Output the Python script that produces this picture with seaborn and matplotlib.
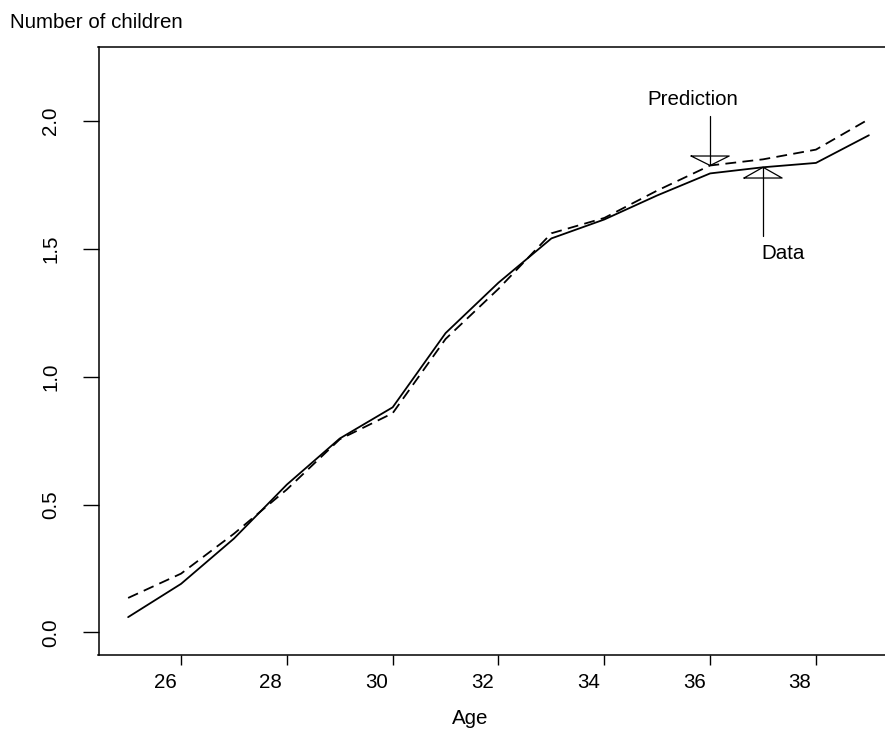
import matplotlib
matplotlib.use("Agg")
import matplotlib.pyplot as plt
import matplotlib.transforms as mtransforms
import seaborn as sns
import pandas as pd

# ---- data ----
ages = [25, 26, 27, 28, 29, 30, 31, 32, 33, 34, 35, 36, 37, 38, 39]
observed = [0.06, 0.19, 0.367, 0.578, 0.758, 0.88, 1.17, 1.367, 1.54, 1.614, 1.708, 1.794, 1.818, 1.835, 1.943]
predicted = [0.135, 0.23, 0.386, 0.559, 0.755, 0.857, 1.147, 1.343, 1.56, 1.62, 1.727, 1.825, 1.849, 1.887, 2.006]
x_ticks = [26, 28, 30, 32, 34, 36, 38]
y_ticks = [0.0, 0.5, 1.0, 1.5, 2.0]
y_tick_labels = ["0.0", "0.5", "1.0", "1.5", "2.0"]

sns.set_style("ticks")
plt.rcParams["font.family"] = ["Liberation Sans", "DejaVu Sans"]
plt.rcParams["text.color"] = "black"
plt.rcParams["xtick.color"] = "black"
plt.rcParams["ytick.color"] = "black"
plt.rcParams["axes.labelcolor"] = "black"

FS = 14.8
W, H = 885, 737
fig = plt.figure(figsize=(W / 100, H / 100), dpi=100)
ax = fig.add_axes([98.5 / W, 1 - 655 / H, 800 / W, 608 / H])

df_obs = pd.DataFrame({"Age": ages, "val": observed})
df_pred = pd.DataFrame({"Age": ages, "val": predicted})
sns.lineplot(data=df_obs, x="Age", y="val", ax=ax, color="black", lw=1.3)
sns.lineplot(data=df_pred, x="Age", y="val", ax=ax, color="black", lw=1.3,
             dashes=False, linestyle=(0, (6, 3.5)))

ax.set_xlim(24.44, 39.56)
ax.set_ylim(-0.088, 2.288)

ax.set_xticks(x_ticks)
ax.set_xticklabels([str(t) for t in x_ticks], fontsize=FS, color="black")
ax.set_yticks(y_ticks)
ax.set_yticklabels(y_tick_labels, fontsize=FS, rotation=90, va="center", color="black")

ax.tick_params(axis="x", length=7.2, width=1.0, pad=6, color="black")
ax.tick_params(axis="y", length=11.5, width=1.0, pad=16, color="black")

# shift x tick labels slightly left as in the reference
offset = mtransforms.ScaledTranslation(-16 / 100, 0, fig.dpi_scale_trans)
for lab in ax.get_xticklabels():
    lab.set_transform(lab.get_transform() + offset)

for side in ["left", "bottom", "top"]:
    ax.spines[side].set_visible(True)
    ax.spines[side].set_linewidth(1.1)
    ax.spines[side].set_color("black")
ax.spines["right"].set_visible(False)

ax.set_xlabel("")
ax.set_ylabel("")
fig.text(470 / W, 1 - 718 / H, "Age", ha="center", va="center", fontsize=FS)
fig.text(10 / W, 1 - 22 / H, "Number of children", ha="left", va="center", fontsize=FS)

# ---- annotations ----
hw = 0.36   # arrowhead half width (x units)
hh = 0.037  # arrowhead height (y units)
# Prediction arrow pointing down at age 36
px, py = ages[11], predicted[11]
ax.plot([px, px], [2.02, py], color="black", lw=0.9)
ax.plot([px - hw, px + hw, px, px - hw], [py + hh, py + hh, py, py + hh], color="black", lw=0.9)
ax.text(35.68, 2.084, "Prediction", ha="center", va="center", fontsize=FS)

# Data arrow pointing up at age 37
dx, dy = ages[12], observed[12]
ax.plot([dx, dx], [1.551, dy], color="black", lw=0.9)
ax.plot([dx - hw, dx + hw, dx, dx - hw], [dy - hh - 0.005, dy - hh - 0.005, dy, dy - hh - 0.005], color="black", lw=0.9)
ax.text(37.38, 1.48, "Data", ha="center", va="center", fontsize=FS)

fig.savefig("out.png", dpi=100)
